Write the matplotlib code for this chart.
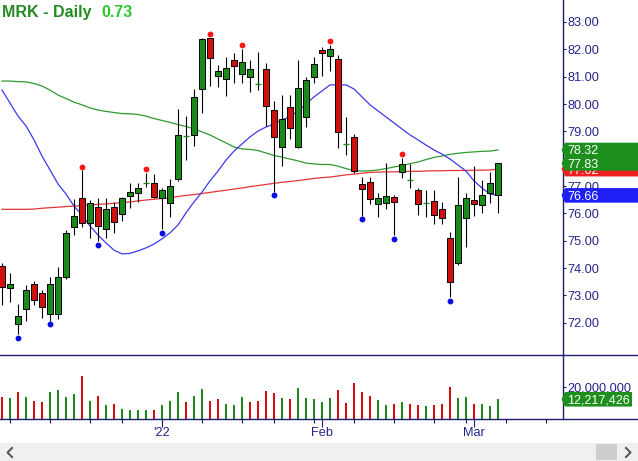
import matplotlib
matplotlib.use("Agg")
import matplotlib.pyplot as plt
from matplotlib.patches import Polygon, Rectangle
from matplotlib.lines import Line2D

plt.rcParams['font.family'] = ['Liberation Sans', 'DejaVu Sans']

# ---- datos (MRK diario, 3 dic 2021 - 4 mar 2022) ----
simbolo = "MRK"
cierre_previo = 74.00
aperturas = [74.08, 73.26, 71.96, 72.50, 73.41, 73.08, 72.32, 72.31, 73.67, 75.49,
             76.55, 75.66, 76.22, 75.42, 76.25, 75.97, 76.65, 76.76, 77.10, 77.10,
             76.55, 76.37, 77.25, 78.83, 78.86, 80.54, 82.40, 81.04, 80.90, 81.60,
             81.09, 80.98, 80.72, 81.27, 79.78, 78.42, 79.88, 78.42, 79.52, 81.00,
             81.98, 81.77, 81.63, 78.54, 78.81, 77.08, 77.14, 76.33, 76.37, 76.59,
             77.50, 77.22, 76.86, 76.37, 76.46, 76.15, 75.09, 74.18, 75.82, 76.49,
             76.31, 76.74, 76.67]
maximos = [74.20, 73.81, 72.68, 73.38, 73.53, 73.20, 73.69, 74.03, 75.39, 76.52,
           77.59, 76.49, 76.55, 76.55, 76.43, 76.61, 77.10, 77.12, 77.49, 77.46,
           76.92, 77.25, 79.81, 79.56, 80.54, 82.40, 82.43, 81.43, 81.71, 81.86,
           82.03, 81.61, 81.92, 81.51, 80.12, 80.33, 80.33, 81.61, 80.98, 81.73,
           82.10, 82.17, 81.79, 79.52, 78.89, 77.34, 77.32, 76.74, 77.86, 76.67,
           78.04, 77.81, 76.92, 76.86, 76.86, 76.41, 75.33, 77.32, 76.76, 77.73,
           77.22, 77.53, 77.86]
minimos = [72.65, 72.77, 71.58, 72.08, 72.65, 72.19, 72.06, 72.13, 73.62, 75.21,
           75.49, 75.10, 74.98, 75.09, 75.30, 75.74, 76.19, 76.43, 76.96, 76.55,
           75.42, 75.88, 77.19, 77.95, 78.47, 79.66, 80.66, 80.64, 80.31, 80.76,
           80.76, 80.45, 80.51, 79.20, 76.78, 77.75, 78.71, 78.40, 79.15, 80.78,
           81.03, 81.22, 78.38, 78.14, 77.47, 75.90, 76.35, 75.88, 76.15, 75.20,
           77.28, 76.92, 75.94, 75.86, 75.61, 75.61, 72.93, 74.12, 74.76, 75.91,
           76.03, 76.37, 76.00]
cierres = [73.30, 73.41, 72.25, 73.20, 72.84, 72.59, 73.41, 73.69, 75.27, 75.91,
           75.66, 76.37, 75.54, 76.15, 75.70, 76.55, 76.77, 76.92, 77.10, 76.61,
           76.86, 77.00, 78.87, 78.83, 80.27, 82.37, 81.67, 81.21, 81.31, 81.38,
           81.53, 81.27, 80.72, 79.94, 78.81, 79.45, 79.11, 80.58, 80.88, 81.46,
           81.88, 82.00, 78.99, 78.54, 77.56, 76.88, 76.52, 76.55, 76.64, 76.43,
           77.81, 77.22, 76.35, 76.37, 75.93, 75.82, 73.48, 76.31, 76.55, 76.33,
           76.67, 77.10, 77.83]
volumenes = [13600000, 13000000, 16700000, 13600000, 11100000, 10500000, 16700000, 18000000, 13600000, 15500000,
             26800000, 11100000, 14200000, 8700000, 9300000, 6200000, 5600000, 5600000, 5600000, 5600000,
             8700000, 11100000, 16700000, 10500000, 14200000, 18600000, 11100000, 12400000, 9300000, 8700000,
             13600000, 10500000, 11100000, 17300000, 16100000, 13000000, 12400000, 19200000, 13000000, 12400000,
             10500000, 13000000, 18000000, 9900000, 22300000, 16700000, 14200000, 11800000, 8700000, 9300000,
             10500000, 9300000, 8700000, 8000000, 8700000, 9300000, 19800000, 13000000, 13600000, 9300000,
             9300000, 8000000, 12217426]
sma20 = [80.51, 80.04, 79.56, 79.20, 78.69, 78.10, 77.59, 77.08, 76.71, 76.27,
         75.94, 75.54, 75.21, 74.92, 74.66, 74.52, 74.54, 74.63, 74.74, 74.88,
         75.07, 75.29, 75.58, 76.02, 76.42, 76.78, 77.19, 77.55, 77.95, 78.28,
         78.54, 78.80, 79.01, 79.16, 79.27, 79.42, 79.54, 79.75, 80.00, 80.26,
         80.48, 80.70, 80.70, 80.70, 80.55, 80.26, 79.97, 79.75, 79.53, 79.31,
         79.09, 78.87, 78.69, 78.50, 78.32, 78.17, 77.99, 77.77, 77.55, 77.19,
         76.93, 76.71, 76.66]
sma50 = [80.84, 80.84, 80.82, 80.81, 80.75, 80.66, 80.51, 80.33, 80.20, 80.07,
         79.97, 79.86, 79.78, 79.73, 79.69, 79.65, 79.64, 79.62, 79.56, 79.47,
         79.40, 79.33, 79.25, 79.18, 79.09, 78.98, 78.87, 78.72, 78.58, 78.43,
         78.36, 78.34, 78.30, 78.21, 78.12, 78.06, 77.99, 77.92, 77.84, 77.81,
         77.79, 77.79, 77.73, 77.64, 77.57, 77.55, 77.56, 77.59, 77.64, 77.70,
         77.75, 77.82, 77.88, 77.97, 78.05, 78.10, 78.16, 78.20, 78.23, 78.25,
         78.27, 78.28, 78.32]
sma200 = [76.15, 76.15, 76.15, 76.15, 76.16, 76.19, 76.21, 76.23, 76.25, 76.27,
          76.29, 76.31, 76.33, 76.35, 76.37, 76.40, 76.42, 76.46, 76.49, 76.52,
          76.55, 76.57, 76.62, 76.66, 76.69, 76.73, 76.77, 76.81, 76.85, 76.89,
          76.93, 76.98, 77.02, 77.06, 77.10, 77.14, 77.17, 77.20, 77.24, 77.28,
          77.31, 77.33, 77.37, 77.41, 77.44, 77.47, 77.50, 77.51, 77.52, 77.52,
          77.53, 77.54, 77.54, 77.55, 77.56, 77.56, 77.57, 77.57, 77.57, 77.58,
          77.58, 77.59, 77.62]
picos = [10, 18, 26, 30, 41, 50]
valles = [2, 6, 12, 20, 34, 45, 49, 56]
semanas = [1, 6, 11, 15, 20, 25, 30, 34, 39, 44, 49, 54, 58, 63, 68]
meses = [20, 40, 59]
etiquetas_mes = ["'22", "Feb", "Mar"]
precios_eje = [72, 73, 74, 75, 76, 77, 78, 79, 80, 81, 82, 83]
volumen_eje = 20000000

# ---- estilo ----
W, H = 638, 461
verde = '#1a8a1a'
rojo = '#d10f0f'
azul_txt = '#24248c'
azul_eje = '#1c1c6e'
n = len(cierres)

fig = plt.figure(figsize=(W / 100, H / 100), dpi=100)
fig.patch.set_facecolor('white')

cuad = fig.add_axes([0, 1 - 355 / H, 563 / W, 355 / H])
cuad_v = fig.add_axes([0, 1 - 419 / H, 563 / W, 64 / H])

for a in (cuad, cuad_v):
    a.set_xlim(-0.25, 70.125)
    for s in ('top', 'left', 'bottom'):
        a.spines[s].set_visible(False)
    a.spines['right'].set_color(azul_eje)
    a.spines['right'].set_linewidth(1.0)
    a.yaxis.tick_right()
    a.tick_params(axis='y', direction='out', length=2.4, pad=0.6, width=0.8,
                  colors=azul_eje, labelcolor=azul_txt, labelsize=9.2)

cuad.set_ylim(70.824, 83.804)
cuad.set_yticks(precios_eje, labels=[f"{p:.2f}" for p in precios_eje])
cuad.set_xticks([])

# medias moviles
x = list(range(n))
cuad.plot(x, sma200, color='#e53535', lw=0.9, zorder=1)
cuad.plot(x, sma50, color='#2e9a2e', lw=0.9, zorder=1)
cuad.plot(x, sma20, color='#3a3af0', lw=0.9, zorder=1)

# velas
for i in range(n):
    o, h, l, c = aperturas[i], maximos[i], minimos[i], cierres[i]
    cuad.vlines(i, l, h, color='black', lw=0.8, zorder=2)
    if o == c:
        cuad.hlines(c, i - 0.42, i + 0.42, color=verde, lw=0.9, zorder=3)
    else:
        col = verde if c > o else rojo
        cuad.add_patch(Rectangle((i - 0.36, min(o, c)), 0.72, abs(c - o),
                                 facecolor=col, edgecolor='black', lw=0.7, zorder=3))

desf = 0.12
cuad.plot(picos, [maximos[i] + desf for i in picos], 'o', color='#ff1414',
          ms=4.2, mec='none', zorder=4)
cuad.plot(valles, [minimos[i] - desf for i in valles], 'o', color='#0a0ae6',
          ms=4.2, mec='none', zorder=4)

# volumen
previos = [cierre_previo] + cierres[:-1]
colores_v = [verde if c > p else rojo for c, p in zip(cierres, previos)]
cuad_v.bar(x, volumenes, width=0.3, color=colores_v, zorder=2)
cuad_v.set_ylim(0, 39.63e6)
cuad_v.set_yticks([volumen_eje], labels=[f"{volumen_eje:,}"])
cuad_v.xaxis.remove_overlapping_locs = False
cuad_v.set_xticks(meses, labels=etiquetas_mes)
cuad_v.set_xticks(semanas, minor=True)
cuad_v.tick_params(axis='x', which='major', direction='out', length=5.8, width=0.8,
                   pad=0.2, colors=azul_eje, labelcolor=azul_txt, labelsize=9.2)
cuad_v.tick_params(axis='x', which='minor', direction='out', length=3.1, width=0.8,
                   colors=azul_eje)

# lineas horizontales a todo lo ancho
for yy in (355, 419):
    fig.add_artist(Line2D([0, 1], [1 - yy / H] * 2, transform=fig.transFigure,
                          color=azul_eje, lw=1.0))

# titulo
fig.text(2 / W, 1 - 17 / H, f"{simbolo} - Daily", color='#218c21', fontsize=11.5,
         fontweight='bold', va='baseline')
cambio = cierres[-1] - cierres[-2]
fig.text(101.5 / W, 1 - 17 / H, f"{cambio:.2f}", color='#2fc72f', fontsize=11.5,
         fontweight='bold', va='baseline')


def etiqueta(eje, valor, texto, color, z, x_der=638):
    yd = eje.transData.transform((0, valor))[1]
    h = 7.3
    x0 = 565
    pts = [(x0 - 3.5, yd), (x0, yd + h), (x_der, yd + h), (x_der, yd - h), (x0, yd - h)]
    fig.add_artist(Polygon([(px / W, py / H) for px, py in pts], closed=True,
                           transform=fig.transFigure, facecolor=color,
                           edgecolor='none', zorder=z))
    fig.text(567 / W, (yd - 4.4) / H, texto, color='white', fontsize=9,
             va='baseline', zorder=z + 0.5)


etiqueta(cuad, sma200[-1], f"{sma200[-1]:.2f}", '#ee2020', 5)
etiqueta(cuad, sma20[-1], f"{sma20[-1]:.2f}", '#1e1ef5', 6)
etiqueta(cuad, sma50[-1], f"{sma50[-1]:.2f}", '#1d8f1d', 7)
etiqueta(cuad, cierres[-1], f"{cierres[-1]:.2f}", '#1d8f1d', 8)
etiqueta(cuad_v, volumenes[-1], f"{volumenes[-1]:,}", '#1d8f1d', 9, x_der=632)

# barra de desplazamiento
fig.add_artist(Rectangle((0, 0), 1, 18 / H, transform=fig.transFigure,
                         facecolor='#f0f0f0', edgecolor='none'))
fig.add_artist(Rectangle((596 / W, 1 / H), 21 / W, 16 / H, transform=fig.transFigure,
                         facecolor='#cdcdcd', edgecolor='none'))
fig.add_artist(Line2D([12 / W, 7.5 / W, 12 / W], [1 - 448 / H, 1 - 452.5 / H, 1 - 457 / H],
                      transform=fig.transFigure, color='#5a5a5a', lw=1.5))
fig.add_artist(Line2D([626 / W, 630.5 / W, 626 / W], [1 - 448 / H, 1 - 452.5 / H, 1 - 457 / H],
                      transform=fig.transFigure, color='#5a5a5a', lw=1.5))

fig.savefig("out.png", dpi=100)
